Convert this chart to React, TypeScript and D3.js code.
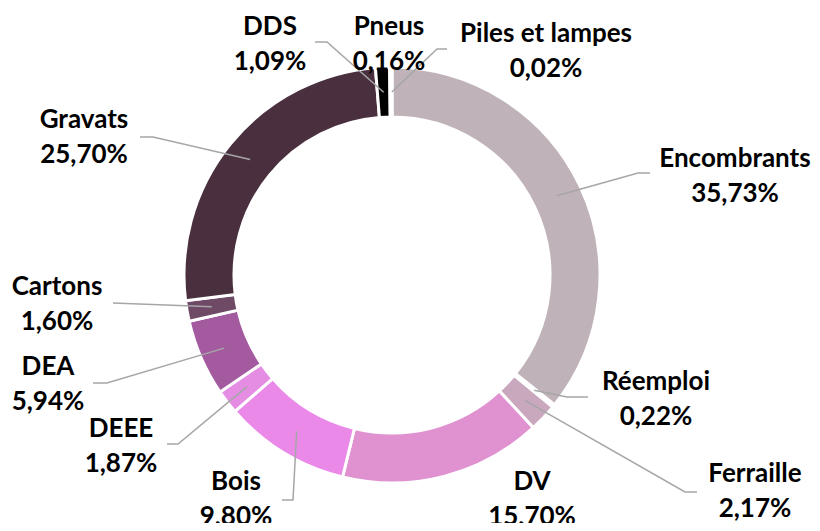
import React, { useRef, useEffect } from 'react';
import * as d3 from 'd3';

const categories = [
  'Encombrants', 'Réemploi', 'Ferraille', 'DV', 'Bois', 'DEEE',
  'DEA', 'Cartons', 'Gravats', 'DDS', 'Pneus', 'Piles et lampes',
];
const percentages = [35.73, 0.22, 2.17, 15.7, 9.8, 1.87, 5.94, 1.6, 25.7, 1.09, 0.16, 0.02];
const sliceColors = [
  '#bfb3b9', '#c4aebd', '#c9a8be', '#e091d0', '#eb89e9', '#e58ce3',
  '#a35a9f', '#6f4a66', '#4a2f3f', '#000000', '#7f7f7f', '#595959',
];

// label layout: text centre x, name baseline y, leader anchor x/y, elbow x (null = no leader)
const labelLayout = [
  { x: 735, y: 167, lx: 650, ly: 173, ex: 638 },
  { x: 656, y: 390, lx: 588, ly: 397, ex: 567 },
  { x: 755, y: 482, lx: 697, ly: 492, ex: 685 },
  { x: 532, y: 490, lx: null, ly: null, ex: null },
  { x: 236, y: 490, lx: 282, ly: 500, ex: 293 },
  { x: 121, y: 437, lx: 167, ly: 444, ex: 178 },
  { x: 48, y: 375, lx: 93, ly: 383, ex: 107 },
  { x: 57, y: 295, lx: 113, ly: 303, ex: 113 },
  { x: 84, y: 128, lx: 140, ly: 137, ex: 153 },
  { x: 270, y: 35, lx: 315, ly: 42, ex: 327 },
  { x: 389, y: 35, lx: null, ly: null, ex: null },
  { x: 546, y: 42, lx: 447, ly: 49, ex: 437 },
];

const formatPct = (v: number) => v.toFixed(2).replace('.', ',') + '%';

export default function App() {
  const ref = useRef<HTMLDivElement>(null);

  useEffect(() => {
    const width = 820;
    const height = 531;
    const cx = 392;
    const cy = 275;
    const outer = 208;
    const inner = 158;

    const svg = d3
      .select(ref.current)
      .call((g) => g.select('svg').remove())
      .append('svg')
      .attr('width', width)
      .attr('height', height)
      .style('display', 'block');

    const data = categories.map((name, i) => ({ name, value: percentages[i], i }));

    const pie = d3.pie<any>().sort(null).value((d) => d.value);
    const arcs = pie(data);
    const arc = d3.arc<any>().innerRadius(inner).outerRadius(outer);

    const g = svg.append('g').attr('transform', `translate(${cx},${cy})`);

    g.selectAll('path.slice')
      .data(arcs)
      .join('path')
      .attr('class', 'slice')
      .attr('d', arc)
      .attr('fill', (d) => sliceColors[d.data.i])
      .attr('stroke', '#fff')
      .attr('stroke-width', 3)
      .attr('stroke-linejoin', 'miter');

    // leader lines: from the slice centroid to the elbow, then across to the label
    arcs.forEach((a) => {
      const L = labelLayout[a.data.i];
      if (L.lx == null) return;
      const [px, py] = arc.centroid(a);
      const pts: [number, number][] = [
        [cx + px, cy + py],
        [L.ex, L.ly],
        [L.lx, L.ly],
      ];
      svg.append('path')
        .attr('d', d3.line()(pts))
        .attr('fill', 'none')
        .attr('stroke', '#a6a6a6')
        .attr('stroke-width', 1.5);
    });

    const labels = svg.append('g')
      .attr('font-family', 'Lato, "Noto Sans", sans-serif')
      .attr('font-weight', 700)
      .attr('font-size', 26)
      .attr('fill', '#000')
      .attr('text-anchor', 'middle');

    data.forEach((d) => {
      const L = labelLayout[d.i];
      const t = labels.append('text');
      t.append('tspan').attr('x', L.x).attr('y', L.y).text(d.name);
      t.append('tspan').attr('x', L.x).attr('y', L.y + 35).text(formatPct(d.value));
    });
  }, []);

  return <div ref={ref} style={{ margin: -8 }}></div>;
}
